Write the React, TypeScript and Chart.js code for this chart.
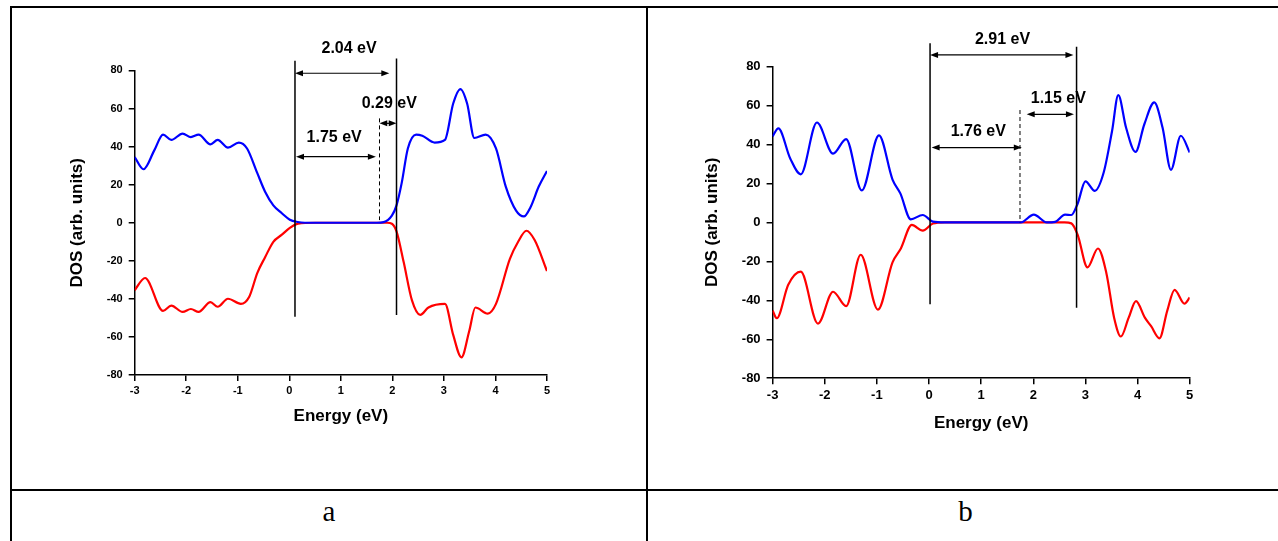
import React, { useEffect, useRef } from "react";
import { Chart, registerables } from "chart.js";

Chart.register(...registerables);

// ---------- Panel a data ----------
const aUpE = [-3, -2.83, -2.62, -2.45, -2.29, -2.07, -1.91, -1.76, -1.53, -1.39, -1.19, -0.98, -0.82, -0.625, -0.47, -0.31, -0.15, 0.01, 0.16, 0.3, 0.8, 1.3, 1.7, 1.83, 1.99, 2.08, 2.18, 2.3, 2.46, 2.58, 2.82, 3.02, 3.18, 3.32, 3.45, 3.59, 3.81, 4.01, 4.2, 4.4, 4.55, 4.68, 4.84, 5.0];
const aUpV = [34.5, 28.1, 38, 46.3, 43.5, 46.8, 45.0, 46.3, 41.2, 43.5, 39.4, 42.1, 39, 26.3, 16.3, 9.1, 5.1, 1.6, 0.4, 0, 0, 0, 0, 0.3, 3.7, 9.1, 20.8, 39, 46.3, 45.7, 42.1, 43.5, 62.6, 70.2, 62.6, 44.5, 46.3, 39, 19, 6.4, 3.3, 8.2, 19, 27.2];
const aDnE = [-3, -2.8, -2.45, -2.29, -2.07, -1.91, -1.76, -1.53, -1.39, -1.19, -0.94, -0.78, -0.62, -0.47, -0.31, -0.15, 0.01, 0.17, 0.5, 1.0, 1.5, 1.9, 1.99, 2.08, 2.22, 2.38, 2.54, 2.7, 3.02, 3.18, 3.34, 3.49, 3.61, 3.85, 4.01, 4.28, 4.44, 4.6, 4.76, 5.0];
const aDnV = [-35.4, -29, -46.3, -43.5, -46.8, -45.3, -46.8, -41.7, -44.1, -39.9, -42.6, -39, -26.3, -18.1, -10, -6.4, -2.7, -0.5, 0, 0, 0, 0, -0.5, -4.5, -20.8, -40.8, -48.4, -44.5, -42.6, -58.9, -70.7, -57, -44.5, -47.7, -42.6, -19, -10, -4.2, -9.1, -25.4];

// gap markers, panel a (energy / DOS values)
const aEdgeE = [0.11, 2.08];
const aEdgeTop = [85.1, 86.3];
const aEdgeBottom = [-49.4, -48.5];
const aDashE = [1.75];
const aDashTop = [54.8];
const aDashBottom = [1.4];
const aArrowFrom = [0.11, 1.75, 0.13];
const aArrowTo = [1.94, 2.08, 1.68];
const aArrowAt = [78.5, 52.2, 34.7];
const aLabelText = ["2.04 eV", "0.29 eV", "1.75 eV"];
const aLabelE = [1.16, 1.94, 0.87];
const aLabelV = [91.6, 62.7, 44.9];

// ---------- Panel b data ----------
const bUpE = [-3, -2.89, -2.66, -2.46, -2.15, -1.84, -1.59, -1.29, -0.96, -0.7, -0.55, -0.35, -0.12, 0.075, 0.3, 1.0, 1.6, 1.76, 2.01, 2.26, 2.42, 2.61, 2.73, 2.85, 3.0, 3.18, 3.35, 3.51, 3.63, 3.78, 3.96, 4.13, 4.32, 4.48, 4.64, 4.83, 5.0];
const bUpV = [44.2, 48.3, 32.7, 24.7, 51.3, 35.3, 42.8, 16.4, 44.7, 22, 14.9, 1.6, 3.8, 0.4, 0, 0, 0, 0, 4, 0, 0.3, 4, 3.8, 9.6, 21.1, 16.2, 25.6, 46.8, 65.4, 48.6, 36.2, 50.4, 61.6, 48.6, 27, 44.5, 35.9];
const bDnE = [-3, -2.92, -2.7, -2.46, -2.13, -1.84, -1.59, -1.31, -0.98, -0.7, -0.54, -0.33, -0.12, 0.075, 0.3, 1.0, 2.0, 2.6, 2.73, 2.85, 3.04, 3.24, 3.4, 3.55, 3.68, 3.83, 3.97, 4.14, 4.26, 4.42, 4.57, 4.71, 4.9, 5.0];
const bDnV = [-45.3, -49.2, -32, -25.3, -52, -35.6, -43, -16.6, -44.8, -20.5, -13.4, -1.3, -4.2, -0.6, 0, 0, 0, 0, -0.5, -6.3, -23.1, -13.4, -25.8, -48.9, -58.6, -48.9, -40.4, -48.9, -53.3, -59.5, -45.3, -34.6, -41.7, -38.6];

const bEdgeE = [0.02, 2.83];
const bEdgeTop = [92, 90.2];
const bEdgeBottom = [-42, -43.8];
const bDashE = [1.745];
const bDashTop = [57.7];
const bDashBottom = [0];
const bArrowFrom = [0.02, 1.873, 0.05];
const bArrowTo = [2.77, 2.78, 1.78];
const bArrowAt = [86, 55.5, 38.4];
const bLabelText = ["2.91 eV", "1.15 eV", "1.76 eV"];
const bLabelE = [1.41, 2.48, 0.945];
const bLabelV = [93.7, 63.4, 46.6];

// ---------- axes ----------
const xMin = -3, xMax = 5, xStep = 1;
const yMin = -80, yMax = 80, yStep = 20;
const xTitle = "Energy (eV)";
const yTitle = "DOS (arb. units)";
const captions = ["a", "b"];

const SANS = "'Liberation Sans', Arial, Helvetica, sans-serif";
const SERIF = "'Liberation Serif', 'Times New Roman', serif";

const gapPlugin = {
  id: "gapMarks",
  afterDatasetsDraw(chart: any, _args: any, opts: any) {
    const { ctx } = chart;
    const xs = chart.scales.x;
    const ys = chart.scales.y;
    const X = (v: number) => xs.getPixelForValue(v);
    const Y = (v: number) => ys.getPixelForValue(v);
    ctx.save();
    ctx.strokeStyle = "#000";
    ctx.fillStyle = "#000";
    // solid band-edge lines
    ctx.lineWidth = 1.5;
    opts.edgeE.forEach((e: number, i: number) => {
      ctx.beginPath();
      ctx.moveTo(X(e), Y(opts.edgeTop[i]));
      ctx.lineTo(X(e), Y(opts.edgeBottom[i]));
      ctx.stroke();
    });
    // dashed line
    ctx.lineWidth = 1;
    ctx.setLineDash([4, 3]);
    opts.dashE.forEach((e: number, i: number) => {
      ctx.beginPath();
      ctx.moveTo(X(e), Y(opts.dashTop[i]));
      ctx.lineTo(X(e), Y(opts.dashBottom[i]));
      ctx.stroke();
    });
    ctx.setLineDash([]);
    // double arrows
    const head = 8, hw = 3;
    opts.arrowFrom.forEach((f: number, i: number) => {
      const x1 = X(f), x2 = X(opts.arrowTo[i]), y = Y(opts.arrowAt[i]);
      const h = Math.min(head, (x2 - x1) / 2.2);
      ctx.lineWidth = 1.2;
      ctx.beginPath();
      ctx.moveTo(x1 + h * 0.5, y);
      ctx.lineTo(x2 - h * 0.5, y);
      ctx.stroke();
      ctx.beginPath();
      ctx.moveTo(x1, y);
      ctx.lineTo(x1 + h, y - hw);
      ctx.lineTo(x1 + h, y + hw);
      ctx.closePath();
      ctx.fill();
      ctx.beginPath();
      ctx.moveTo(x2, y);
      ctx.lineTo(x2 - h, y - hw);
      ctx.lineTo(x2 - h, y + hw);
      ctx.closePath();
      ctx.fill();
    });
    // labels
    ctx.font = `bold ${opts.labelSize}px ${SANS}`;
    ctx.textAlign = "center";
    ctx.textBaseline = "middle";
    opts.labelText.forEach((t: string, i: number) => {
      ctx.fillText(t, X(opts.labelE[i]), Y(opts.labelV[i]));
    });
    ctx.restore();
  },
};

type PanelProps = {
  left: number;
  top: number;
  width: number;
  height: number;
  area: { left: number; right: number; top: number; bottom: number };
  tickSize: number;
  titleSize: number;
  yTitlePad: number;
  xTitlePad: number;
  upE: number[];
  upV: number[];
  dnE: number[];
  dnV: number[];
  marks: any;
};

function DosPanel(p: PanelProps) {
  const ref = useRef<HTMLCanvasElement>(null);
  useEffect(() => {
    if (!ref.current) return;
    const xAxisH = 60;
    const tickFont = { family: SANS, size: p.tickSize, weight: "bold" as const };
    const titleFont = { family: SANS, size: p.titleSize, weight: "bold" as const };
    const chart = new Chart(ref.current, {
      type: "line",
      data: {
        datasets: [
          {
            data: p.upE.map((e, i) => ({ x: e, y: p.upV[i] })),
            borderColor: "#0000ff",
            borderWidth: 2.2,
            pointRadius: 0,
            cubicInterpolationMode: "monotone",
            fill: false,
          },
          {
            data: p.dnE.map((e, i) => ({ x: e, y: p.dnV[i] })),
            borderColor: "#ff0000",
            borderWidth: 2.2,
            pointRadius: 0,
            cubicInterpolationMode: "monotone",
            fill: false,
          },
        ],
      },
      options: {
        animation: false,
        responsive: false,
        maintainAspectRatio: false,
        layout: {
          padding: {
            left: 0,
            right: p.width - p.area.right,
            top: p.area.top,
            bottom: p.height - p.area.bottom - xAxisH,
          },
        },
        plugins: {
          legend: { display: false },
          tooltip: { enabled: false },
          gapMarks: p.marks,
        } as any,
        scales: {
          x: {
            type: "linear",
            min: xMin,
            max: xMax,
            ticks: { stepSize: xStep, color: "#000", font: tickFont, padding: 3 },
            grid: { drawOnChartArea: false, drawTicks: true, tickLength: 6, color: "#000", lineWidth: 1.5 },
            border: { display: true, color: "#000", width: 1.5 },
            title: { display: true, text: xTitle, color: "#000", font: titleFont, padding: { top: 0, bottom: p.xTitlePad } },
            afterFit: (s: any) => {
              s.height = xAxisH;
            },
          },
          y: {
            type: "linear",
            min: yMin,
            max: yMax,
            ticks: { stepSize: yStep, color: "#000", font: tickFont, padding: 6 },
            grid: { drawOnChartArea: false, drawTicks: true, tickLength: 6, color: "#000", lineWidth: 1.5 },
            border: { display: true, color: "#000", width: 1.5 },
            title: { display: true, text: yTitle, color: "#000", font: titleFont, padding: { top: p.yTitlePad, bottom: 0 } },
            afterFit: (s: any) => {
              s.width = p.area.left;
            },
          },
        },
      },
      plugins: [gapPlugin],
    } as any);
    return () => chart.destroy();
  }, []);
  return (
    <canvas
      ref={ref}
      width={p.width}
      height={p.height}
      style={{ position: "absolute", left: p.left, top: p.top, width: p.width, height: p.height }}
    />
  );
}

const line = (l: number, t: number, w: number, h: number) => (
  <div style={{ position: "absolute", left: l, top: t, width: w, height: h, background: "#000" }} />
);

export default function App() {
  const marksA = {
    edgeE: aEdgeE, edgeTop: aEdgeTop, edgeBottom: aEdgeBottom,
    dashE: aDashE, dashTop: aDashTop, dashBottom: aDashBottom,
    arrowFrom: aArrowFrom, arrowTo: aArrowTo, arrowAt: aArrowAt,
    labelText: aLabelText, labelE: aLabelE, labelV: aLabelV, labelSize: 16,
  };
  const marksB = {
    edgeE: bEdgeE, edgeTop: bEdgeTop, edgeBottom: bEdgeBottom,
    dashE: bDashE, dashTop: bDashTop, dashBottom: bDashBottom,
    arrowFrom: bArrowFrom, arrowTo: bArrowTo, arrowAt: bArrowAt,
    labelText: bLabelText, labelE: bLabelE, labelV: bLabelV, labelSize: 16,
  };
  return (
    <div style={{ position: "absolute", left: 0, top: 0, width: 1278, height: 541, background: "#fff", overflow: "hidden" }}>
      {line(10, 6, 1268, 2)}
      {line(10, 6, 2, 535)}
      {line(646, 6, 2, 535)}
      {line(10, 489, 1268, 2)}
      <DosPanel
        left={12}
        top={8}
        width={634}
        height={481}
        area={{ left: 122.7, right: 535, top: 62.4, bottom: 367.1 }}
        tickSize={11}
        titleSize={17}
        yTitlePad={55.4}
        xTitlePad={8.4}
        upE={aUpE}
        upV={aUpV}
        dnE={aDnE}
        dnV={aDnV}
        marks={marksA}
      />
      <DosPanel
        left={648}
        top={8}
        width={629}
        height={481}
        area={{ left: 124.6, right: 541.7, top: 58.6, bottom: 370.2 }}
        tickSize={13}
        titleSize={17}
        yTitlePad={54.2}
        xTitlePad={4.3}
        upE={bUpE}
        upV={bUpV}
        dnE={bDnE}
        dnV={bDnV}
        marks={marksB}
      />
      <div style={{ position: "absolute", left: 12, top: 495, width: 634, textAlign: "center", font: `29px ${SERIF}`, lineHeight: "32px", color: "#000" }}>
        {captions[0]}
      </div>
      <div style={{ position: "absolute", left: 648, top: 495, width: 635, textAlign: "center", font: `29px ${SERIF}`, lineHeight: "32px", color: "#000" }}>
        {captions[1]}
      </div>
    </div>
  );
}
